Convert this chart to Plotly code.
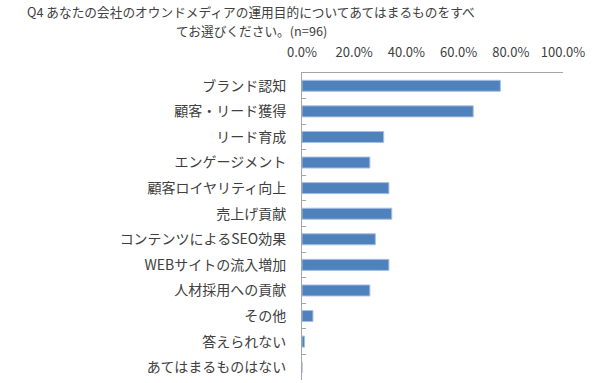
import plotly.graph_objects as go

categories = ["ブランド認知", "顧客・リード獲得", "リード育成", "エンゲージメント",
              "顧客ロイヤリティ向上", "売上げ貢献", "コンテンツによるSEO効果",
              "WEBサイトの流入増加", "人材採用への貢献", "その他", "答えられない",
              "あてはまるものはない"]
values = [0.760, 0.656, 0.313, 0.260, 0.333, 0.344, 0.281, 0.333, 0.260, 0.042, 0.010, 0.0]
tick_vals = [0, 0.2, 0.4, 0.6, 0.8, 1.0]
title_lines = ["Q4 あなたの会社のオウンドメディアの運用目的についてあてはまるものをすべ",
               "てお選びください。(n=96)"]

font_family = "Noto Sans CJK JP, Noto Sans, sans-serif"

W, H = 612, 383
L, R, T, B = 302, 49, 73, 3
PW, PH = W - L - R, H - T - B

fig = go.Figure(go.Bar(
    x=values, y=categories, orientation="h",
    marker=dict(color="#4F81BD", line=dict(color="#A7C0E0", width=1)),
    width=0.43,
))

annotations = []
for i, line in enumerate(title_lines):
    cy = 12 + i * 18.5
    annotations.append(dict(
        text=line, x=(251 - L) / PW, y=1 + (T - cy) / PH,
        xref="paper", yref="paper", showarrow=False,
        xanchor="center", yanchor="middle",
        font=dict(size=12.7, color="#404040"),
    ))

fig.update_layout(
    width=W, height=H,
    margin=dict(l=L, r=R, t=T, b=B),
    paper_bgcolor="white", plot_bgcolor="white",
    showlegend=False,
    font=dict(family=font_family, size=12, color="#404040"),
    annotations=annotations,
)

fig.update_xaxes(
    range=[0, 1], side="top", tickvals=tick_vals, tickformat=".1%",
    showgrid=False, zeroline=False, showline=True, linecolor="#A6A6A6", linewidth=1,
    ticks="", tickfont=dict(size=13, color="#404040"), ticklabelstandoff=10,
)
fig.update_yaxes(
    autorange="reversed", showgrid=False, showline=True, linecolor="#A6A6A6", linewidth=1,
    ticks="inside", tickson="boundaries", ticklen=4, tickcolor="#A6A6A6",
    tickfont=dict(size=14, color="#404040"), ticklabelstandoff=12,
)

fig.write_html("out.html", config={"displayModeBar": False},
               post_script="document.body.style.margin='0';")
